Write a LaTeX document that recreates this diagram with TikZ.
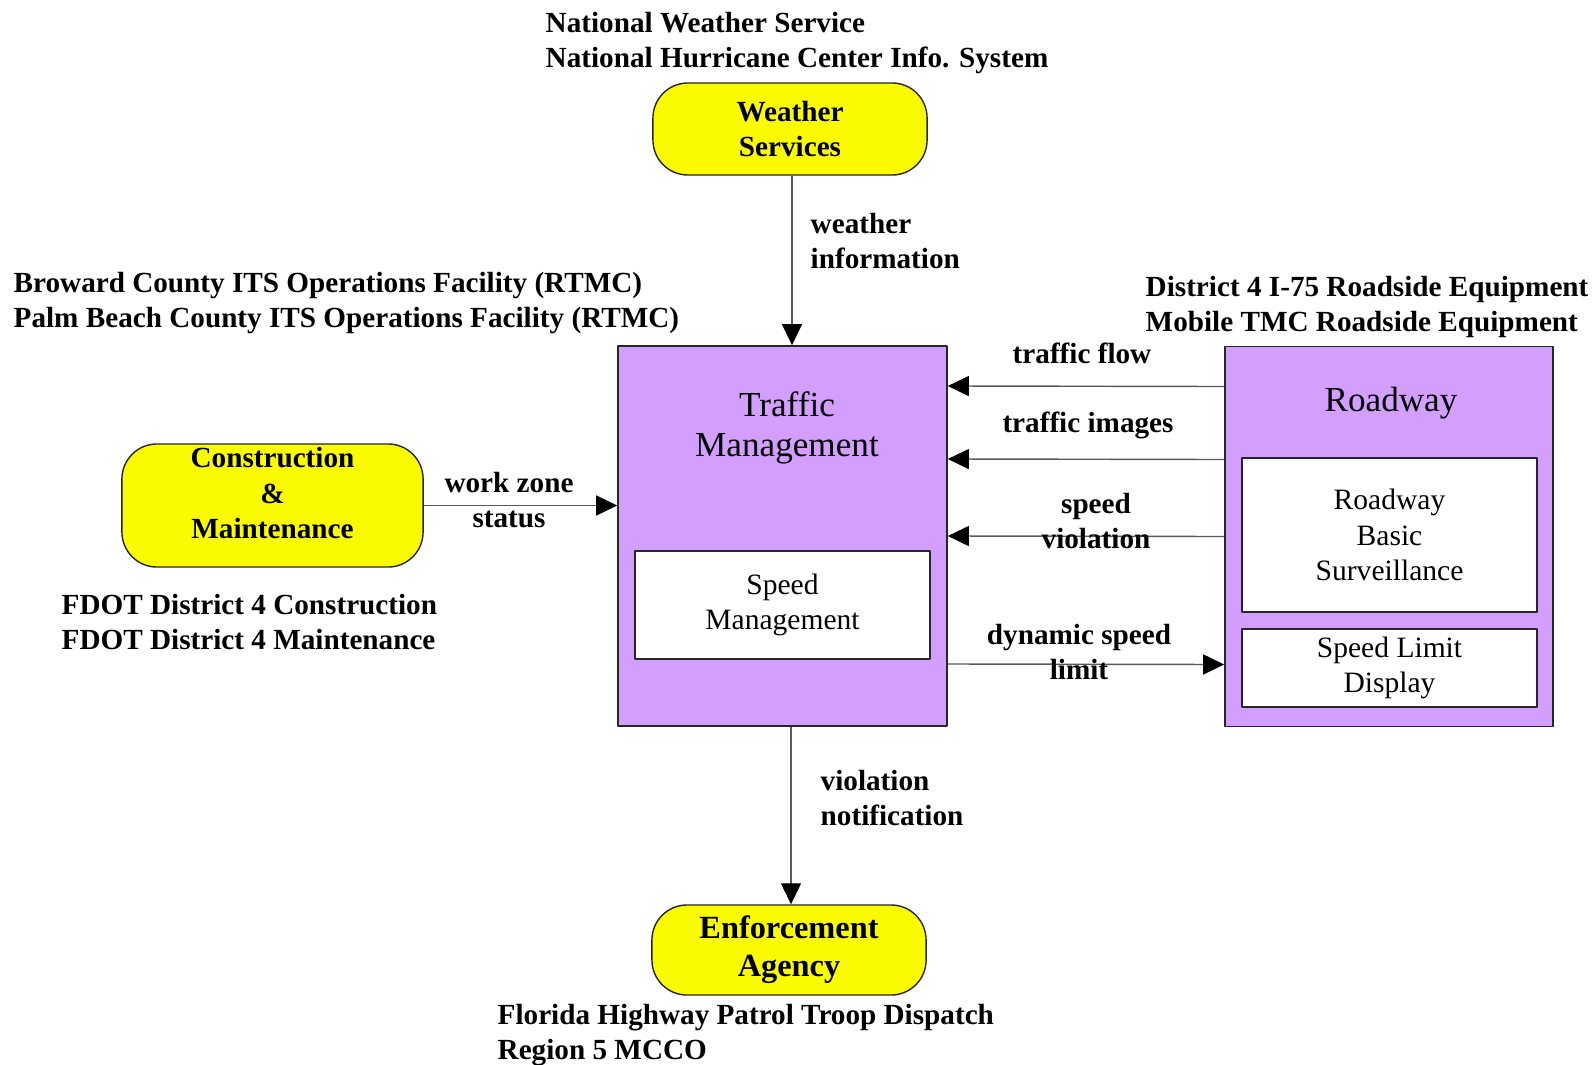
\documentclass[tikz,border=0pt]{standalone}
\usepackage{fontspec}
\setmainfont{Liberation Serif}
\usepackage{tikz}
\usetikzlibrary{arrows.meta,calc}
\usepackage{xcolor}
\definecolor{termyellow}{RGB}{250,250,0}
\definecolor{sysviolet}{RGB}{212,158,255}
\newcommand{\lblfont}{\fontsize{8.3}{10.1}\selectfont\bfseries}
\newcommand{\bigfont}{\fontsize{9.2}{10.8}\selectfont\bfseries}
\newcommand{\ttlfont}{\fontsize{10}{11.5}\selectfont}
\newcommand{\eqfont}{\fontsize{8.4}{10.1}\selectfont}
\tikzset{
  term/.style={draw=black!85,fill=termyellow,rounded corners=0.35cm,align=center,
    font=\lblfont,inner sep=0pt},
  subsys/.style={draw=black!85,fill=sysviolet,minimum width=3.29cm,minimum height=3.8cm},
  equip/.style={draw=black!85,fill=white,align=center,font=\eqfont,minimum width=2.95cm,
    inner ysep=0pt},
  flow/.style={draw=black!65,-{Triangle[black,length=0.21cm,width=0.2cm]}},
  note/.style={font=\lblfont,align=left,inner sep=0pt,anchor=west},
  flowlbl/.style={font=\lblfont,align=center,inner sep=0pt},
}

\begin{document}
\begin{tikzpicture}[x=0.01cm,y=-0.01cm,line join=round]
  \useasboundingbox (0,0) rectangle (1592,1064);
  % subsystems
  \node[subsys] (tm) at (782.5,536) {};
  \node[subsys,minimum width=3.28cm] (rw) at (1389,536.5) {};
  \node[font=\ttlfont,align=center] (tmttl) at (787,428) {Traffic\\Management};
  \node[font=\ttlfont] (rwttl) at (1391,403) {Roadway};
  \node[equip,minimum height=1.08cm] (spd) at (782.5,605) {Speed\\Management};
  \node[equip,minimum height=1.54cm] (rbs) at (1389.5,535) {Roadway\\Basic\\Surveillance};
  \node[equip,minimum height=0.78cm] (sld) at (1389.5,668) {Speed Limit\\Display};
  % terminators
  \node[term,minimum width=2.74cm,minimum height=0.92cm] (ws) at (790,129) {Weather\\Services};
  \node[term,minimum width=3.01cm,minimum height=1.23cm,text depth=0.25cm] (cm) at (272.5,505.5) {Construction\\\&\\Maintenance};
  \node[term,font=\bigfont,minimum width=2.74cm,minimum height=0.90cm] (ea) at (789,950) {Enforcement\\Agency};
  % stakeholders
  \node[note] (wsnames) at (545,43) {National Weather Service\\National Hurricane Center Info. System};
  \node[note] (tmnames) at (13,303) {Broward County ITS Operations Facility (RTMC)\\Palm Beach County ITS Operations Facility (RTMC)};
  \node[note] (rwnames) at (1145,307) {District 4 I-75 Roadside Equipment\\Mobile TMC Roadside Equipment};
  \node[note] (cmnames) at (61,622) {FDOT District 4 Construction\\FDOT District 4 Maintenance};
  \node[note] (eanames) at (497,1035) {Florida Highway Patrol Troop Dispatch\\Region 5 MCCO};
  % flows
  \draw[flow] ($(ws.south)+(2,0)$) -- ($(ws.south |- tm.north)+(2,0)$);
  \draw[flow] ($(ea.north |- tm.south)+(2,0)$) -- ($(ea.north)+(2,0)$);
  \draw[flow] (cm.east) -- (cm.east -| tm.west);
  \draw[flow] ($(rw.west)+(0,-150)$) -- ($(tm.east)+(0,-150)$);
  \draw[flow] ($(rw.west)+(0,-77)$) -- ($(tm.east)+(0,-77)$);
  \draw[flow] (rw.west) -- (tm.east);
  \draw[flow] ($(tm.east)+(0,128)$) -- ($(rw.west)+(0,128)$);
  \node[note] (wslbl) at (810,241) {weather\\information};
  \node[note] (ealbl) at (820,798) {violation\\notification};
  \node[flowlbl] (cmlbl) at (509,500) {work zone\\status};
  \node[flowlbl] (tflbl) at (1082,353) {traffic flow};
  \node[flowlbl] (tilbl) at (1088,425) {traffic images};
  \node[flowlbl] (svlbl) at (1096,521) {speed\\violation};
  \node[flowlbl] (dslbl) at (1079,652) {dynamic speed\\limit};
\end{tikzpicture}
\end{document}
